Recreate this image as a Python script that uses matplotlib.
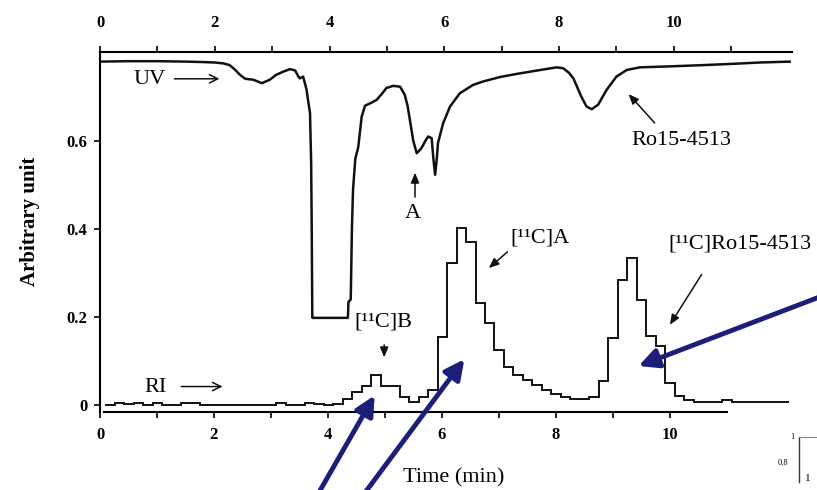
import matplotlib.pyplot as plt
import numpy as np

plt.rcParams['font.family'] = ['Liberation Serif', 'DejaVu Serif']

# UV trace (top time axis, min) and absorbance (arbitrary unit)
uv_time = [0.0, 0.5, 1.0, 1.5, 1.8, 2.0, 2.15, 2.26, 2.35, 2.44, 2.53, 2.67, 2.82, 2.96, 3.07,
           3.19, 3.31, 3.40, 3.45, 3.48, 3.54, 3.60, 3.64, 3.66, 3.68, 3.69, 3.70, 4.32, 4.33,
           4.37, 4.39, 4.41, 4.45, 4.50, 4.56, 4.62, 4.72, 4.82, 4.92, 4.99, 5.11, 5.23, 5.31,
           5.36, 5.40, 5.46, 5.52, 5.60, 5.67, 5.72, 5.78, 5.81, 5.84, 5.87, 5.89, 5.98, 6.10,
           6.27, 6.50, 6.68, 6.97, 7.26, 7.67, 7.96, 8.07, 8.17, 8.25, 8.39, 8.48, 8.57, 8.68,
           8.83, 9.00, 9.18, 9.41, 9.88, 10.5, 11.03, 11.5, 12.02]
uv_signal = [0.780, 0.781, 0.781, 0.780, 0.779, 0.778, 0.776, 0.772, 0.762, 0.750, 0.741, 0.739,
             0.731, 0.739, 0.750, 0.757, 0.763, 0.760, 0.748, 0.742, 0.746, 0.716, 0.680, 0.663,
             0.550, 0.400, 0.198, 0.198, 0.234, 0.240, 0.400, 0.490, 0.560, 0.585, 0.655, 0.680,
             0.686, 0.693, 0.708, 0.720, 0.725, 0.723, 0.705, 0.680, 0.648, 0.600, 0.572, 0.583,
             0.600, 0.610, 0.606, 0.560, 0.523, 0.560, 0.595, 0.640, 0.678, 0.708, 0.727, 0.735,
             0.745, 0.752, 0.761, 0.767, 0.765, 0.755, 0.742, 0.700, 0.678, 0.672, 0.682, 0.716,
             0.746, 0.761, 0.767, 0.769, 0.772, 0.775, 0.778, 0.780]

# radioactivity histogram (bottom time axis), 10 s frames
ri_start = 0.093
ri_frame = 1 / 6
ri_counts = [0.0, 0.005, 0.003, 0.005, 0.0, 0.005, 0.0, 0.0, 0.005, 0.005,
             0.0, 0.0, 0.0, 0.0, 0.0, 0.0, 0.0, 0.0, 0.005, 0.0,
             0.0, 0.005, 0.002, 0.0, 0.003, 0.013, 0.030, 0.043, 0.068, 0.043,
             0.043, 0.019, 0.006, 0.019, 0.034, 0.155, 0.322, 0.402, 0.371, 0.231,
             0.186, 0.125, 0.087, 0.068, 0.057, 0.045, 0.034, 0.025, 0.019, 0.013,
             0.013, 0.019, 0.055, 0.153, 0.284, 0.333, 0.239, 0.157, 0.134, 0.050,
             0.020, 0.012, 0.008, 0.008, 0.008, 0.011, 0.008, 0.008, 0.006, 0.006,
             0.006, 0.006]
ri_edges = ri_start + np.arange(len(ri_counts) + 1) * ri_frame

fig = plt.figure(figsize=(8.17, 4.9), dpi=100)
ax = fig.add_axes([0.1224, 0.159, 0.847, 0.735])
ax.set_xlim(0.07, 12.15)
ax.set_ylim(-0.016, 0.802)
ax.stairs(ri_counts, ri_edges, baseline=None, color='#111111', lw=1.4)

ax.spines['right'].set_visible(False)
ax.spines['top'].set_visible(False)
ax.spines['bottom'].set_bounds(0.07, 11.0)
for s in ['left', 'bottom']:
    ax.spines[s].set_linewidth(1.5)
ax.set_xticks(range(0, 11))
ax.set_xticklabels([str(i) if i % 2 == 0 else '' for i in range(0, 11)])
ax.set_yticks([0, 0.2, 0.4, 0.6])
ax.set_yticklabels(['0', '0.2', '0.4', '0.6'])
ax.tick_params(axis='x', direction='out', length=4, width=1.2, pad=7, labelsize=12)
ax.tick_params(axis='y', direction='out', length=4, width=1.2, pad=5, labelsize=12)
for lab in ax.get_xticklabels() + ax.get_yticklabels():
    lab.set_fontweight('bold')

ax2 = ax.twiny()
ax2.set_xlim(0, 12.06)
ax2.plot(uv_time, uv_signal, color='#111111', lw=1.8)
for s in ['left', 'right', 'bottom']:
    ax2.spines[s].set_visible(False)
ax2.spines['top'].set_linewidth(1.5)
ax2.set_xticks(range(0, 12))
ax2.set_xticklabels([str(i) if i % 2 == 0 else '' for i in range(0, 12)])
ax2.tick_params(axis='x', direction='out', length=4, width=1.2, pad=11, labelsize=12)
for lab in ax2.get_xticklabels():
    lab.set_fontweight('bold')

fig.text(30 / 817, 1 - 221 / 490, 'Arbitrary unit', rotation=90, ha='center', va='center',
         fontsize=15, fontweight='bold')
fig.text(454 / 817, 1 - 478 / 490, 'Time (min)', ha='center', va='center', fontsize=16)

# labels and black arrows
open_arrow = dict(arrowstyle='->,head_length=0.6,head_width=0.3', color='#111111', lw=1.1)
solid_arrow = dict(arrowstyle='-|>,head_length=0.6,head_width=0.25', color='#111111', lw=1.1)

ax2.text(0.87, 0.739, 'UV', ha='center', va='center', fontsize=16)
ax2.annotate('', xy=(2.13, 0.741), xytext=(1.25, 0.741), arrowprops=open_arrow)
ax.text(0.98, 0.039, 'RI', ha='center', va='center', fontsize=16)
ax.annotate('', xy=(2.20, 0.042), xytext=(1.38, 0.042), arrowprops=open_arrow)

ax2.text(5.45, 0.436, 'A', ha='center', va='center', fontsize=16)
ax2.annotate('', xy=(5.49, 0.534), xytext=(5.49, 0.466), arrowprops=solid_arrow)
ax2.text(10.14, 0.60, 'Ro15-4513', ha='center', va='center', fontsize=16)
ax2.annotate('', xy=(9.18, 0.711), xytext=(9.70, 0.636), arrowprops=solid_arrow)

ax.text(4.97, 0.189, '[¹¹C]B', ha='center', va='center', fontsize=16)
ax.annotate('', xy=(4.99, 0.102), xytext=(4.99, 0.143), arrowprops=solid_arrow)
ax.text(7.72, 0.38, '[¹¹C]A', ha='center', va='center', fontsize=16)
ax.annotate('', xy=(6.79, 0.307), xytext=(7.19, 0.352), arrowprops=solid_arrow)
ax.text(9.98, 0.366, '[¹¹C]Ro15-4513', ha='left', va='center', fontsize=16, clip_on=False)
ax.annotate('', xy=(9.98, 0.177), xytext=(10.59, 0.302), arrowprops=solid_arrow)

# blue overlay arrows
blue = dict(arrowstyle='-|>,head_length=0.9,head_width=0.45', color='#1c1f7a', lw=3.5,
            mutation_scale=13)
fig_px = dict(xycoords='figure pixels', textcoords='figure pixels', annotation_clip=False)
fig.add_artist(plt.Annotation('', xy=(376, 97), xytext=(318, -4), arrowprops=blue, **fig_px))
fig.add_artist(plt.Annotation('', xy=(466, 133), xytext=(364, -4), arrowprops=blue, **fig_px))
fig.add_artist(plt.Annotation('', xy=(636, 123), xytext=(822, 194), arrowprops=blue, **fig_px))

# cut-off corner of a neighbouring panel
fig.add_artist(plt.Line2D([799 / 817, 799 / 817], [1 - 437 / 490, 1 - 482 / 490],
                          color='#333333', lw=1.0))
fig.add_artist(plt.Line2D([799 / 817, 1.0], [1 - 437 / 490, 1 - 437 / 490],
                          color='#888888', lw=0.8))
fig.text(792 / 817, 1 - 437 / 490, '1', ha='center', va='center', fontsize=6)
fig.text(783 / 817, 1 - 463 / 490, '0.8', ha='center', va='center', fontsize=6)
fig.text(808 / 817, 1 - 478 / 490, '1', ha='center', va='center', fontsize=8)

fig.savefig('out.png', dpi=100)
